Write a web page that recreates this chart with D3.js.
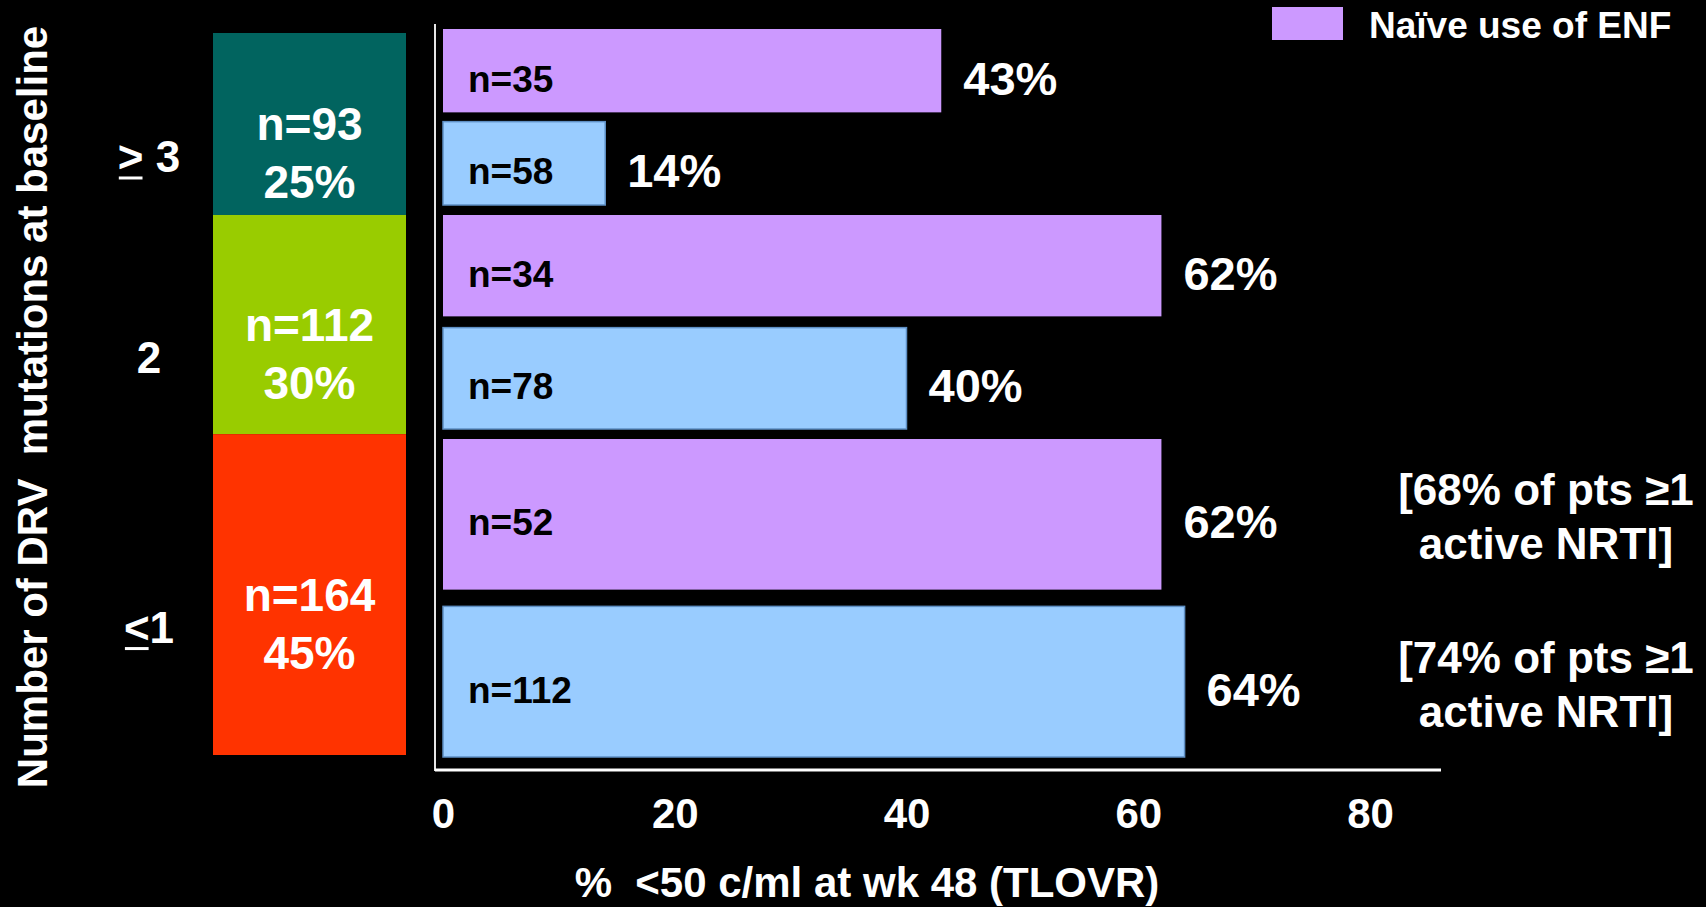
<!DOCTYPE html>
<html>
<head>
<meta charset="utf-8">
<script src="https://cdn.jsdelivr.net/npm/d3@7"></script>
<style>
  html, body { margin: 0; padding: 0; background: #000; }
  svg { display: block; }
  text { font-family: "Liberation Sans", Arial, Helvetica, sans-serif; font-weight: bold; white-space: pre; }
</style>
</head>
<body>
<script>
// Baseline DRV mutation groups, listed top to bottom
const groups = ["≥ 3", "2", "≤1"];
const groupN = [93, 112, 164];
const groupPct = [25, 30, 45];
const groupColors = ["#01645F", "#99CC00", "#FF3300"];

// % <50 copies/ml at week 48, by ENF use
const naiveN = [35, 34, 52];
const naivePct = [43, 62, 62];
const otherN = [58, 78, 112];
const otherPct = [14, 40, 64];

// Notes shown next to the bars of the lowest group
const naiveNote = [null, null, ["[68% of pts ≥1", "active NRTI]"]];
const otherNote = [null, null, ["[74% of pts ≥1", "active NRTI]"]];

const xTicks = [0, 20, 40, 60, 80];
const legendLabel = "Naïve use of ENF";
const xTitle = "%  <50 c/ml at wk 48 (TLOVR)";
const yTitle = "Number of DRV  mutations at baseline";

const seriesKeys = ["naive", "other"];
const seriesFill = { naive: "#CC99FF", other: "#99CCFF" };
const seriesStroke = { naive: "none", other: "#5E8FC4" };

const W = 1706, H = 907;
const svg = d3.select("body").append("svg").attr("width", W).attr("height", H);
svg.append("rect").attr("width", W).attr("height", H).attr("fill", "#000");

// ---- scales ----
const total = d3.sum(groupN);
const yCol = d3.scaleLinear().domain([0, total]).range([755, 33]);
const yBar = d3.scaleLinear().domain([0, total]).range([762, 24]);
const x = d3.scaleLinear().domain([0, 80]).range([443, 1370]);

// stack the groups bottom-up (lowest group sits at the bottom)
const order = d3.range(groups.length).reverse();
const cum = d3.cumsum(order.map(i => groupN[i]));
const seg = [];
order.forEach((i, k) => { seg[i] = [k ? cum[k - 1] : 0, cum[k]]; });

// ---- stacked group column ----
const colX = 213, colW = 193, colCx = colX + colW / 2;
const col = svg.append("g");
col.selectAll("rect").data(groups).join("rect")
  .attr("x", colX).attr("width", colW)
  .attr("y", (d, i) => yCol(seg[i][1]))
  .attr("height", (d, i) => yCol(seg[i][0]) - yCol(seg[i][1]))
  .attr("fill", (d, i) => groupColors[i]);

groups.forEach((g, i) => {
  const cy = (yCol(seg[i][0]) + yCol(seg[i][1])) / 2;
  const t = col.append("text").attr("text-anchor", "middle").attr("fill", "#fff").style("font-size", "46px");
  t.append("tspan").attr("x", colCx).attr("y", cy + 16).text("n=" + groupN[i]);
  t.append("tspan").attr("x", colCx).attr("y", cy + 74).text(groupPct[i] + "%");
});

// ---- group labels (≥ / ≤ drawn as underlined > / <) ----
const catG = svg.append("g");
groups.forEach((g, i) => {
  const cy = (yCol(seg[i][0]) + yCol(seg[i][1])) / 2;
  const base = cy + 48;
  let label = g, underline = false;
  if (g[0] === "≥") { label = ">" + g.slice(1); underline = true; }
  if (g[0] === "≤") { label = "<" + g.slice(1); underline = true; }
  const t = catG.append("text").attr("x", 149).attr("y", base)
    .attr("text-anchor", "middle").attr("fill", "#fff").style("font-size", "44px").text(label);
  if (underline) {
    const ext = t.node().getExtentOfChar(0);
    catG.append("line")
      .attr("x1", ext.x + 1).attr("x2", ext.x + ext.width - 1)
      .attr("y1", base + 6).attr("y2", base + 6)
      .attr("stroke", "#fff").attr("stroke-width", 3);
  }
});

// ---- y title ----
svg.append("text")
  .attr("transform", "translate(47,407) rotate(-90)")
  .attr("text-anchor", "middle").attr("fill", "#fff").style("font-size", "42px")
  .text(yTitle);

// ---- horizontal bars ----
const rows = [];
groups.forEach((g, i) => {
  const top = yBar(seg[i][1]), bot = yBar(seg[i][0]);
  const band = d3.scaleBand().domain(seriesKeys).range([top + 5, bot - 5]).paddingInner(0.1);
  rows.push({ i, key: "naive", pct: naivePct[i], n: naiveN[i], note: naiveNote[i], band });
  rows.push({ i, key: "other", pct: otherPct[i], n: otherN[i], note: otherNote[i], band });
});

const bars = svg.append("g");
bars.selectAll("rect").data(rows).join("rect")
  .attr("x", x(0))
  .attr("y", d => d.band(d.key))
  .attr("width", d => x(d.pct) - x(0))
  .attr("height", d => d.band.bandwidth())
  .attr("fill", d => seriesFill[d.key])
  .attr("stroke", d => seriesStroke[d.key])
  .attr("stroke-width", 1.5);

const mid = d => d.band(d.key) + d.band.bandwidth() / 2;

bars.selectAll("text.n").data(rows).join("text").attr("class", "n")
  .attr("x", x(0) + 25).attr("y", d => mid(d) + 21)
  .attr("fill", "#000").style("font-size", "37px")
  .text(d => "n=" + d.n);

bars.selectAll("text.v").data(rows).join("text").attr("class", "v")
  .attr("x", d => x(d.pct) + 22).attr("y", d => mid(d) + 24)
  .attr("fill", "#fff").style("font-size", "47px")
  .text(d => d.pct + "%");

// notes beside the bars
rows.filter(d => d.note).forEach(d => {
  const t = svg.append("text").attr("text-anchor", "middle").attr("fill", "#fff").style("font-size", "44px");
  t.append("tspan").attr("x", 1546).attr("y", mid(d) - 9).text(d.note[0]);
  t.append("tspan").attr("x", 1546).attr("y", mid(d) + 45).text(d.note[1]);
});

// ---- plot frame and x axis ----
const frameX = 435, frameTop = 24, axisY = 770, frameRight = 1441;
svg.append("line").attr("x1", frameX).attr("x2", frameX).attr("y1", frameTop).attr("y2", axisY + 1)
  .attr("stroke", "#e6e6e6").attr("stroke-width", 2);
svg.append("line").attr("x1", frameX).attr("x2", frameRight).attr("y1", axisY).attr("y2", axisY)
  .attr("stroke", "#ffffff").attr("stroke-width", 3);

const xAxis = svg.append("g").attr("transform", `translate(0,${axisY})`)
  .call(d3.axisBottom(x).tickValues(xTicks).tickSize(0).tickPadding(28).tickFormat(d3.format("d")));
xAxis.select(".domain").remove();
xAxis.selectAll("text").attr("fill", "#fff").style("font-size", "42px")
  .style("font-family", "'Liberation Sans', Arial, sans-serif").style("font-weight", "bold");

svg.append("text").attr("x", 867).attr("y", 897).attr("text-anchor", "middle")
  .attr("fill", "#fff").style("font-size", "42px").text(xTitle);

// ---- legend ----
const lg = svg.append("g");
lg.append("rect").attr("x", 1272).attr("y", 7).attr("width", 71).attr("height", 33).attr("fill", seriesFill.naive);
lg.append("text").attr("x", 1369).attr("y", 38).attr("fill", "#fff").style("font-size", "37px").text(legendLabel);
</script>
</body>
</html>
